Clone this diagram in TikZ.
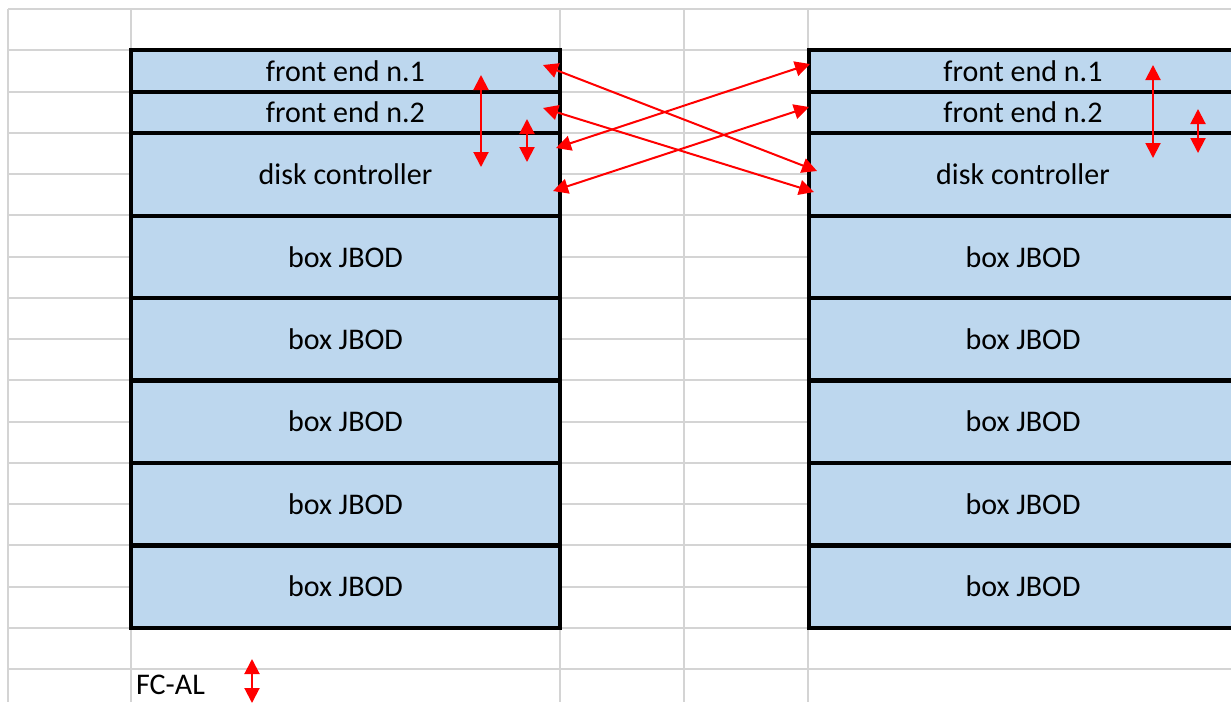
\documentclass[tikz,border=0pt]{standalone}
\usepackage{fontspec}
\setmainfont{Carlito}
\usetikzlibrary{arrows.meta}
\definecolor{gridgray}{RGB}{212,212,212}
\definecolor{cellblue}{RGB}{189,215,238}
\definecolor{linkred}{RGB}{255,0,0}
\tikzset{
  txt/.style={font=\fontsize{30}{33}\selectfont},
  cell/.style={draw=black, line width=4pt, fill=cellblue, minimum width=429pt,
    inner sep=0pt, txt},
  link/.style={draw=linkred, line width=2pt,
    {Triangle[length=15pt,width=15pt]}-{Triangle[length=15pt,width=15pt]}},
  gridline/.style={draw=gridgray, line width=2pt}
}
\begin{document}
\begin{tikzpicture}[x=1pt,y=-1pt]
\useasboundingbox (0,0) rectangle (1231,702);
\clip (0,0) rectangle (1231,702);
% spreadsheet grid
\foreach \k in {0,...,16}
  \draw[gridline] (8,{9+41.25*\k}) -- (1231,{9+41.25*\k});
\foreach \gx in {8,131,560,684,808}
  \draw[gridline] (\gx,9) -- (\gx,702);
% left storage stack
\node[cell, minimum height=41.5pt] (lfe1) at (345.5,71) {front end n.1};
\node[cell, minimum height=41.5pt] (lfe2) at (345.5,112.5) {front end n.2};
\node[cell, minimum height=83pt]   (ldc)  at (345.5,174.5) {disk controller};
\node[cell, minimum height=82pt]   (lj1)  at (345.5,257) {box JBOD};
\node[cell, minimum height=82pt]   (lj2)  at (345.5,339) {box JBOD};
\node[cell, minimum height=82pt]   (lj3)  at (345.5,421.5) {box JBOD};
\node[cell, minimum height=82pt]   (lj4)  at (345.5,504) {box JBOD};
\node[cell, minimum height=82pt]   (lj5)  at (345.5,586.5) {box JBOD};
% right storage stack
\node[cell, minimum height=41.5pt] (rfe1) at (1023,71) {front end n.1};
\node[cell, minimum height=41.5pt] (rfe2) at (1023,112.5) {front end n.2};
\node[cell, minimum height=83pt]   (rdc)  at (1023,174.5) {disk controller};
\node[cell, minimum height=82pt]   (rj1)  at (1023,257) {box JBOD};
\node[cell, minimum height=82pt]   (rj2)  at (1023,339) {box JBOD};
\node[cell, minimum height=82pt]   (rj3)  at (1023,421.5) {box JBOD};
\node[cell, minimum height=82pt]   (rj4)  at (1023,504) {box JBOD};
\node[cell, minimum height=82pt]   (rj5)  at (1023,586.5) {box JBOD};
% legend
\node[anchor=base west, inner sep=0pt, txt] (legend) at (136,694) {FC-AL};
% link end points
\coordinate (a1l) at (543,65);  \coordinate (a1r) at (817,171);
\coordinate (a2l) at (543,108); \coordinate (a2r) at (814,192);
\coordinate (a3l) at (556,148); \coordinate (a3r) at (810,64);
\coordinate (a4l) at (553,191); \coordinate (a4r) at (809,107);
\coordinate (v1t) at (481,75);  \coordinate (v1b) at (481,167);
\coordinate (v2t) at (527,119); \coordinate (v2b) at (527,162);
\coordinate (v3t) at (1153,65); \coordinate (v3b) at (1153,158);
\coordinate (v4t) at (1198,109);\coordinate (v4b) at (1198,153);
\coordinate (fct) at (252,659); \coordinate (fcb) at (252,703);
% cross links between the two stacks
\draw[link] (a1l) -- (a1r);
\draw[link] (a2l) -- (a2r);
\draw[link] (a3l) -- (a3r);
\draw[link] (a4l) -- (a4r);
% internal loops
\draw[link] (v1t) -- (v1b);
\draw[link] (v2t) -- (v2b);
\draw[link] (v3t) -- (v3b);
\draw[link] (v4t) -- (v4b);
\draw[link] (fct) -- (fcb);
\end{tikzpicture}
\end{document}
